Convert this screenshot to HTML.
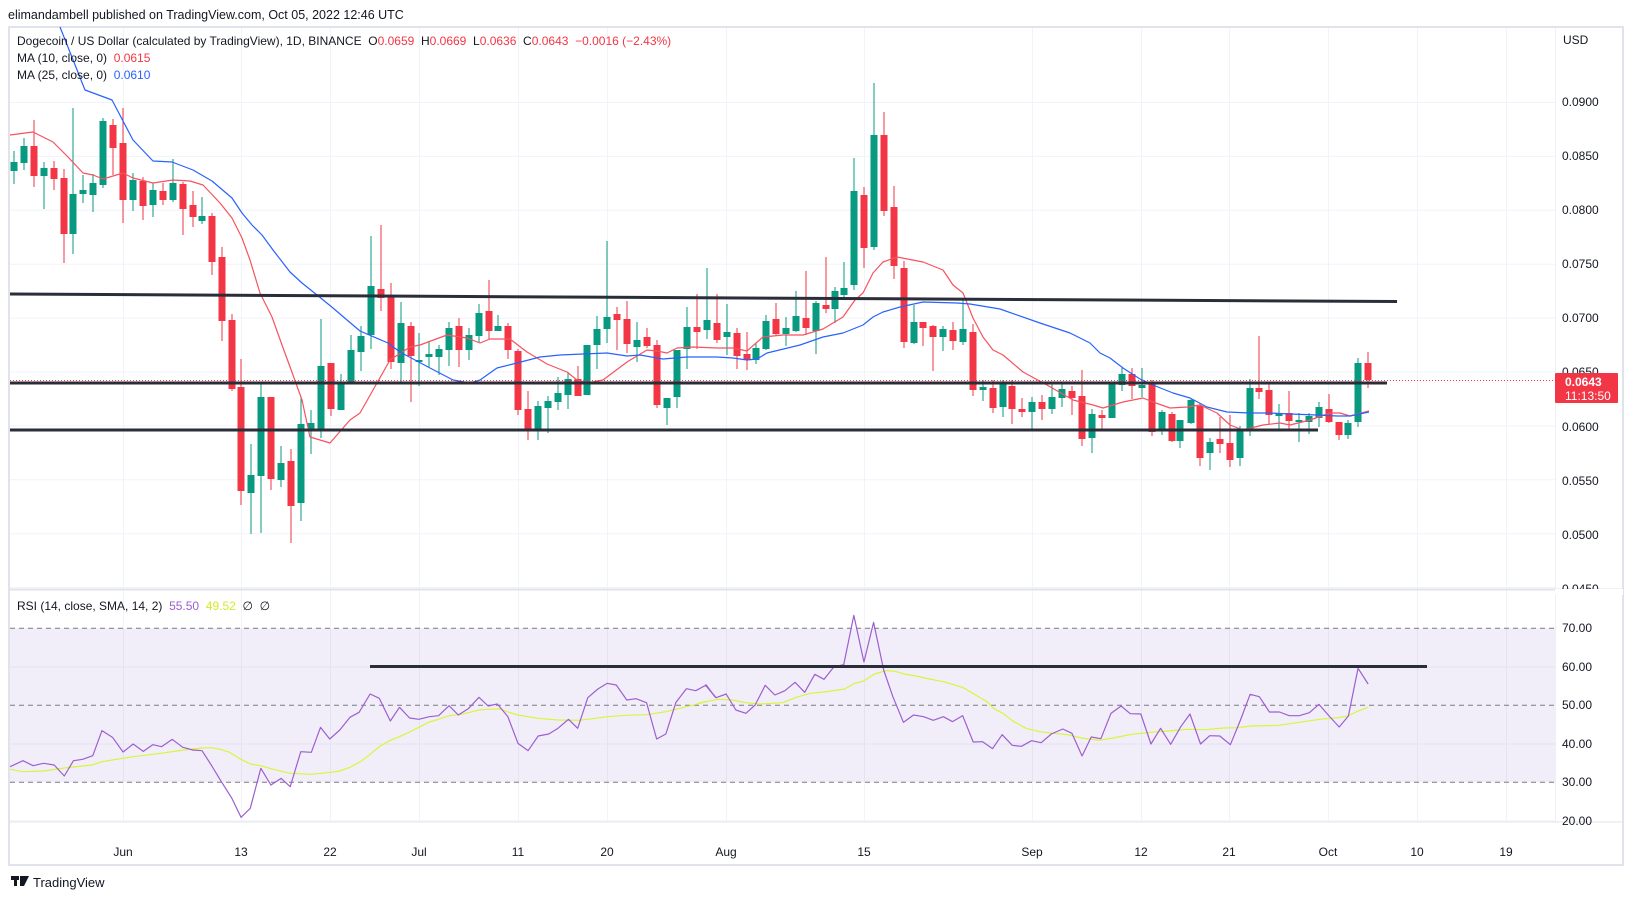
<!DOCTYPE html>
<html><head><meta charset="utf-8"><style>
html,body{margin:0;padding:0;background:#fff;}
svg{display:block;font-family:"Liberation Sans",sans-serif;}
.pre{white-space:pre;}
</style></head><body>
<svg id="s" width="1633" height="901" viewBox="0 0 1633 901" xmlns="http://www.w3.org/2000/svg">
<rect x="0" y="0" width="1633" height="901" fill="#fff"/>
<text x="8" y="19" font-size="12.5" fill="#131722">elimandambell published on TradingView.com, Oct 05, 2022 12:46 UTC</text>
<rect x="9" y="27" width="1614" height="838" fill="#fff" stroke="#e0e3eb" stroke-width="2"/>
<g id="grid" stroke="#f0f3fa" stroke-width="1"></g>
<rect x="10" y="628.3" width="1545" height="154" fill="#7e57c2" fill-opacity="0.1"/>
<g stroke="#787b86" stroke-width="1" stroke-dasharray="5,4">
<line x1="10" y1="628.3" x2="1555" y2="628.3"/>
<line x1="10" y1="705.3" x2="1555" y2="705.3"/>
<line x1="10" y1="782.3" x2="1555" y2="782.3"/>
</g>
<line x1="10" y1="589.5" x2="1623" y2="589.5" stroke="#e0e3eb" stroke-width="2"/>
<line x1="10" y1="822" x2="1623" y2="822" stroke="#e0e3eb" stroke-width="1"/>
<line x1="1555.5" y1="27" x2="1555.5" y2="822" stroke="#e0e3eb" stroke-width="1" opacity="0.5"/>
<g id="candles"></g>
<g id="lines"></g>
<g stroke="#2a2e39" stroke-width="3" stroke-linecap="butt">
<line x1="10" y1="294" x2="1397" y2="301.5"/>
<line x1="10" y1="383" x2="1387" y2="383"/>
<line x1="10" y1="430" x2="1318" y2="430"/>
<line x1="370" y1="666.5" x2="1427" y2="666.5"/>
</g>
<line x1="10" y1="380.5" x2="1555" y2="380.5" stroke="#f23645" stroke-width="1" stroke-dasharray="1,2"/>
<g font-size="12" fill="#131722">
<text x="1563" y="44">USD</text>
<text x="1562" y="106">0.0900</text>
<text x="1562" y="160">0.0850</text>
<text x="1562" y="214">0.0800</text>
<text x="1562" y="268">0.0750</text>
<text x="1562" y="322">0.0700</text>
<text x="1562" y="376">0.0650</text>
<text x="1562" y="431">0.0600</text>
<text x="1562" y="485">0.0550</text>
<text x="1562" y="539">0.0500</text>
<text x="1562" y="593">0.0450</text>
<text x="1562" y="632">70.00</text>
<text x="1562" y="671">60.00</text>
<text x="1562" y="709">50.00</text>
<text x="1562" y="748">40.00</text>
<text x="1562" y="786">30.00</text>
<text x="1562" y="825">20.00</text>
</g>
<rect x="1555" y="589" width="68" height="6" fill="#fff"/>
<rect x="1555" y="373" width="63" height="30" fill="#f23645" rx="1"/>
<text x="1565" y="386" font-size="12" font-weight="bold" fill="#fff">0.0643</text>
<text x="1565" y="400" font-size="12" fill="#fff">11:13:50</text>
<g font-size="12" fill="#131722" class="pre">
<text x="17" y="45" class="pre">Dogecoin / US Dollar (calculated by TradingView), 1D, BINANCE  O<tspan fill="#f23645">0.0659</tspan>  H<tspan fill="#f23645">0.0669</tspan>  L<tspan fill="#f23645">0.0636</tspan>  C<tspan fill="#f23645">0.0643</tspan>  <tspan fill="#f23645">−0.0016 (−2.43%)</tspan></text>
<text x="17" y="62" class="pre">MA (10, close, 0)  <tspan fill="#f23645">0.0615</tspan></text>
<text x="17" y="79" class="pre">MA (25, close, 0)  <tspan fill="#2962ff">0.0610</tspan></text>
<text x="17" y="610" class="pre">RSI (14, close, SMA, 14, 2)  <tspan fill="#9c5fd0">55.50</tspan>  <tspan fill="#d4ea2a">49.52</tspan>  ∅  ∅</text>
</g>
<g id="tl" font-size="12" fill="#131722" text-anchor="middle"></g>
<g>
<rect x="11" y="876" width="8" height="4" fill="#131722"/><rect x="14" y="876" width="3" height="10" fill="#131722"/>
<path d="M20 876 L29 876 L24 886 L20 886 Z" fill="#131722"/>
<text x="33" y="887" font-size="13" fill="#131722">TradingView</text>
</g>
</svg>
<script>
var NS="http://www.w3.org/2000/svg";
function el(t,a,p){var e=document.createElementNS(NS,t);for(var k in a)e.setAttribute(k,a[k]);p.appendChild(e);return e;}
var grid=document.getElementById('grid');
var vx=[123,241,330,419,518,607,726,864,1032,1141,1229,1328,1417,1506];
var lab=["Jun","13","22","Jul","11","20","Aug","15","Sep","12","21","Oct","10","19"];
var tl=document.getElementById('tl');
vx.forEach(function(x,i){el('line',{x1:x+.5,y1:28,x2:x+.5,y2:822},grid);var t=el('text',{x:x,y:856},tl);t.textContent=lab[i];});
for(var i=0;i<10;i++){var y=102.5+i*53.9;el('line',{x1:10,y1:y,x2:1555,y2:y},grid);}
[667,744,820.7].forEach(function(y){el('line',{x1:10,y1:y,x2:1555,y2:y},grid);});
var C=[[14,171,162,151,184],[24,163,146,138,170],[34,146,176,120,187],[44,176,168,162,209],[54,168,179,161,190],[64,178,234,169,263],[73,234,194,108,254],[83,194,190,175,203],[93,195,183,174,212],[103,185,121,118,188],[113,125,148,119,175],[123,143,200,108,223],[133,200,180,173,211],[143,181,206,177,220],[153,205,190,183,217],[163,191,200,183,205],[173,200,183,159,202],[183,184,209,182,235],[193,205,217,191,227],[202,221,216,197,224],[212,216,262,213,275],[222,257,321,247,341],[232,320,389,314,391],[241,387,491,359,505],[251,493,475,444,534],[261,476,397,384,533],[271,397,479,397,490],[281,480,463,446,487],[291,461,506,449,543],[301,503,424,396,521],[311,429,423,410,454],[321,429,366,319,438],[331,363,409,363,416],[341,410,384,374,410],[351,384,350,335,384],[361,352,336,326,371],[371,335,286,236,349],[381,289,298,225,311],[391,295,362,283,369],[401,363,323,302,383],[411,326,356,322,402],[419,362,360,333,386],[429,357,354,341,367],[439,357,349,345,375],[449,350,328,322,366],[459,326,350,318,367],[469,350,335,328,360],[479,336,313,304,343],[489,311,331,280,339],[498,331,326,315,331],[508,326,350,323,359],[518,351,410,349,415],[528,409,429,391,440],[538,429,406,401,440],[548,408,401,396,433],[558,402,393,377,410],[568,395,379,372,409],[578,379,396,366,396],[587,395,345,345,395],[597,345,329,316,369],[607,329,317,241,343],[617,314,320,307,350],[627,319,344,301,353],[637,347,340,322,362],[647,337,346,328,348],[657,345,405,340,408],[667,408,398,398,425],[677,397,350,350,408],[687,349,327,307,369],[697,327,332,294,349],[707,330,320,268,339],[717,323,340,294,343],[727,337,332,304,355],[737,333,356,328,369],[747,354,360,332,370],[756,360,348,343,364],[766,349,321,315,350],[776,319,334,303,335],[786,334,328,317,346],[796,331,316,291,332],[806,318,328,271,335],[816,331,303,301,354],[826,305,309,257,313],[835,309,291,287,323],[844,295,288,262,300],[854,285,191,158,290],[864,195,248,187,268],[874,247,135,83,250],[884,135,211,112,216],[894,207,266,186,279],[904,268,342,261,348],[914,343,322,305,344],[923,322,328,322,346],[933,326,337,325,371],[943,337,329,326,351],[953,330,341,322,350],[963,342,329,299,345],[973,332,390,324,396],[983,389,388,380,401],[993,388,408,380,413],[1003,407,383,380,417],[1012,386,409,380,424],[1022,409,412,398,417],[1032,412,402,397,430],[1042,402,409,395,420],[1052,409,397,382,414],[1062,398,389,383,407],[1072,391,398,386,415],[1082,396,439,370,446],[1092,438,414,409,453],[1102,415,418,410,430],[1112,418,383,383,418],[1122,385,374,368,391],[1132,374,386,368,399],[1142,387,386,368,397],[1152,383,432,380,436],[1162,430,412,410,435],[1172,414,441,412,442],[1180,441,420,420,448],[1191,423,400,398,424],[1200,406,458,403,466],[1210,453,442,438,470],[1220,439,444,417,453],[1230,443,460,415,467],[1240,458,430,426,466],[1250,430,388,379,436],[1259,388,392,336,399],[1269,390,415,384,424],[1279,415,414,404,429],[1289,413,421,391,429],[1299,422,420,413,442],[1309,422,416,413,434],[1319,418,407,402,427],[1329,409,422,394,423],[1339,422,435,422,440],[1348,435,423,420,439],[1358,422,363,358,427],[1368,363,380,352,388]];
var cg=document.getElementById('candles');
C.forEach(function(c){var x=c[0],o=c[1],cl=c[2],h=c[3],l=c[4];var col=cl<=o?'#089981':'#f23645';
el('rect',{x:x-0.5,y:h,width:1,height:l-h,fill:col},cg);
var t=Math.min(o,cl),b=Math.max(o,cl);if(b-t<1.5){t-=1;b+=1;}
el('rect',{x:x-3.5,y:t,width:7,height:b-t,fill:col},cg);});
var lg=document.getElementById('lines');
function pl(pts,col,w){el('polyline',{points:pts.map(function(p){return p[0]+','+p[1];}).join(' '),fill:'none',stroke:col,'stroke-width':w||1.2,'stroke-linejoin':'round'},lg);}
var blue=[[60,27],[85,90],[112,100],[133,140],[153,161],[172,162],[193,170],[212,181],[232,198],[242,213],[252,225],[262,235],[273,250],[290,272],[302,283],[317,295],[333,308],[347,320],[360,331],[388,343],[400,352],[430,368],[453,380],[470,383],[480,380],[497,368],[517,363],[540,357],[560,355],[583,354],[607,353],[627,356],[640,355],[663,359],[687,357],[717,357],[733,358],[747,360],[757,359],[767,353],[800,345],[823,337],[843,333],[863,325],[873,317],[883,312],[900,307],[923,302],[957,303],[970,304],[1000,309],[1040,323],[1070,333],[1090,343],[1100,353],[1110,358],[1123,368],[1140,379],[1153,385],[1173,393],[1190,398],[1207,407],[1227,412],[1250,413],[1270,413],[1290,414],[1317,415],[1337,416],[1350,416],[1369,412]];
var red=[[10,135],[33,132],[53,142],[68,157],[83,173],[93,175],[103,179],[123,173],[133,178],[153,183],[173,180],[190,181],[203,185],[220,203],[232,218],[242,238],[250,260],[260,293],[272,317],[282,345],[293,375],[302,400],[310,437],[330,443],[350,420],[360,413],[377,383],[390,360],[410,347],[420,345],[447,335],[467,338],[480,343],[490,339],[510,339],[527,352],[547,364],[567,372],[577,380],[587,383],[603,380],[627,362],[647,350],[657,351],[667,353],[677,348],[693,347],[717,348],[733,348],[747,351],[763,337],[783,335],[803,335],[823,329],[843,317],[855,300],[863,293],[873,273],[883,262],[897,257],[923,262],[943,270],[953,285],[963,293],[973,318],[983,337],[993,350],[1003,355],[1023,372],[1047,385],[1073,400],[1093,405],[1103,408],[1123,402],[1143,398],[1153,402],[1170,408],[1187,407],[1200,405],[1217,413],[1230,425],[1243,430],[1263,425],[1280,423],[1290,425],[1310,420],[1330,413],[1340,413],[1350,416],[1369,411]];
pl(red,'#f7525f',1.2);pl(blue,'#2962ff',1.2);
function mp(a,x0){return a.map(function(p){return [x0+p[0]*0.4592,590+p[1]/3];});}
var p1=mp([[22,530],[50,512],[72,527],[95,520],[118,525],[140,558],[160,512],[180,508],[202,497],[222,422],[245,442],[268,486],[290,462],[312,484],[333,464],[352,470],[375,448],[398,472],[420,480],[440,482],[460,525],[482,575],[505,625],[525,682],[545,655],[568,535],[590,585],[612,565],[632,590],[655,485],[678,487],[698,412],[718,447],[740,420],[762,382],[782,367],[806,312],[826,325],[850,393],[870,352],[892,384],[912,388],[935,380],[955,377],[978,347],[998,375],[1020,356],[1043,322],[1063,348],[1083,342],[1106,380],[1128,460],[1150,482],[1172,438],[1195,432],[1215,415],[1238,388],[1258,415],[1280,323],[1302,297],[1322,280],[1342,285],[1365,330],[1385,326],[1408,338],[1430,447],[1450,432],[1472,337],[1495,296],[1515,302],[1538,285],[1558,322]],0);
var p2=mp([[12,285],[35,323],[57,312],[78,360],[100,370],[120,345],[142,286],[163,315],[185,302],[207,277],[228,307],[250,253],[270,268],[292,230],[313,224],[335,76],[357,216],[378,97],[400,240],[420,320],[443,397],[465,375],[487,380],[508,391],[530,380],[550,395],[572,377],[595,456],[615,455],[637,476],[658,434],[680,466],[700,469],[722,452],[743,458],[765,432],[790,417],[810,430],[832,498],[852,441],[873,446],[895,370],[917,348],[937,371],[960,372],[982,462],[1003,415],[1025,463],[1047,410],[1067,372],[1090,462],[1110,437],[1132,438],[1155,464],[1177,390],[1198,313],[1218,320],[1240,366],[1262,366],[1283,377],[1305,377],[1327,368],[1348,343],[1370,378],[1392,411],[1412,378],[1433,235],[1455,282]],700);
var y1=mp([[22,538],[50,545],[95,543],[140,534],[200,525],[222,515],[290,500],[350,490],[400,480],[440,474],[460,473],[480,478],[500,487],[522,506],[545,522],[568,527],[590,536],[632,550],[678,553],[720,547],[740,543],[762,532],[785,515],[805,494],[828,468],[850,451],[870,440],[892,426],[912,412],[935,396],[955,388],[978,377],[1000,374],[1020,368],[1043,360],[1063,358],[1090,357],[1106,366],[1128,375],[1172,385],[1215,390],[1258,391],[1280,388],[1322,380],[1365,376],[1408,374],[1450,365],[1495,350],[1538,335]],0);
var y2=mp([[0,338],[40,328],[70,330],[100,338],[130,342],[180,338],[210,322],[240,310],[270,306],[300,300],[315,297],[335,281],[355,274],[380,252],[405,242],[425,244],[445,252],[470,258],[500,267],[530,275],[550,283],[575,294],[600,315],[625,335],[640,356],[660,370],[680,392],[710,415],[740,425],[770,430],[800,434],[830,444],[870,451],[900,444],[940,433],[980,427],[1020,423],[1060,418],[1100,419],[1140,414],[1170,413],[1200,408],[1260,406],[1300,398],[1350,388],[1390,383],[1410,378],[1430,365],[1455,352]],700);
pl(y1.concat(y2),'#d9f53a',1.2);
pl(p1.concat(p2),'#9c5fd0',1.2);
</script>
</body></html>
